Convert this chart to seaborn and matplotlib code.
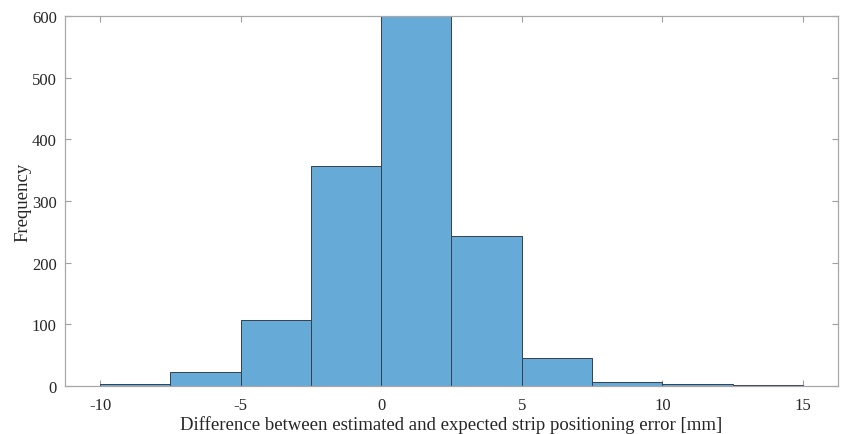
import numpy as np
import matplotlib
matplotlib.use('Agg')
import matplotlib.pyplot as plt
import seaborn as sns

# histogram bins (width 2.5) and counts
bin_edges = [-10, -7.5, -5, -2.5, 0, 2.5, 5, 7.5, 10, 12.5, 15]
counts = [4, 22, 107, 357, 640, 243, 45, 6, 4, 2]
x_ticks = [-10, -5, 0, 5, 10, 15]
y_ticks = [0, 100, 200, 300, 400, 500, 600]

bin_centers = [(a + b) / 2 for a, b in zip(bin_edges[:-1], bin_edges[1:])]

sns.set_style('white')
plt.rcParams['font.family'] = ['Liberation Serif', 'DejaVu Serif']
plt.rcParams['axes.unicode_minus'] = False

fig = plt.figure(figsize=(8.41, 4.35), dpi=100)
ax = fig.add_axes([0.0773, 0.1103, 0.9191, 0.8506])

sns.histplot(x=bin_centers, weights=counts, bins=bin_edges, ax=ax,
             color='#66AAD7', alpha=1.0, edgecolor='#33404f', linewidth=0.7)

ax.set_xlim(-11.25, 16.25)
ax.set_ylim(0, 600)
ax.set_xticks(x_ticks)
ax.set_yticks(y_ticks)
ax.set_xlabel('Difference between estimated and expected strip positioning error [mm]',
              fontsize=13.5, color='#262626')
ax.set_ylabel('Frequency', fontsize=13.5, color='#262626')
ax.xaxis.set_label_coords(0.5, -0.078)
ax.yaxis.set_label_coords(-0.043, 0.5)

ax.tick_params(direction='in', length=4.5, width=0.8, color='#a0a0a0',
               labelsize=12, labelcolor='#262626', top=True, right=True,
               bottom=True, left=True)
ax.tick_params(axis='x', pad=8)
ax.tick_params(axis='y', pad=6)
for s in ax.spines.values():
    s.set_visible(True)
    s.set_color('#a8a8a8')
    s.set_linewidth(0.9)

fig.savefig('out.png', dpi=100)
